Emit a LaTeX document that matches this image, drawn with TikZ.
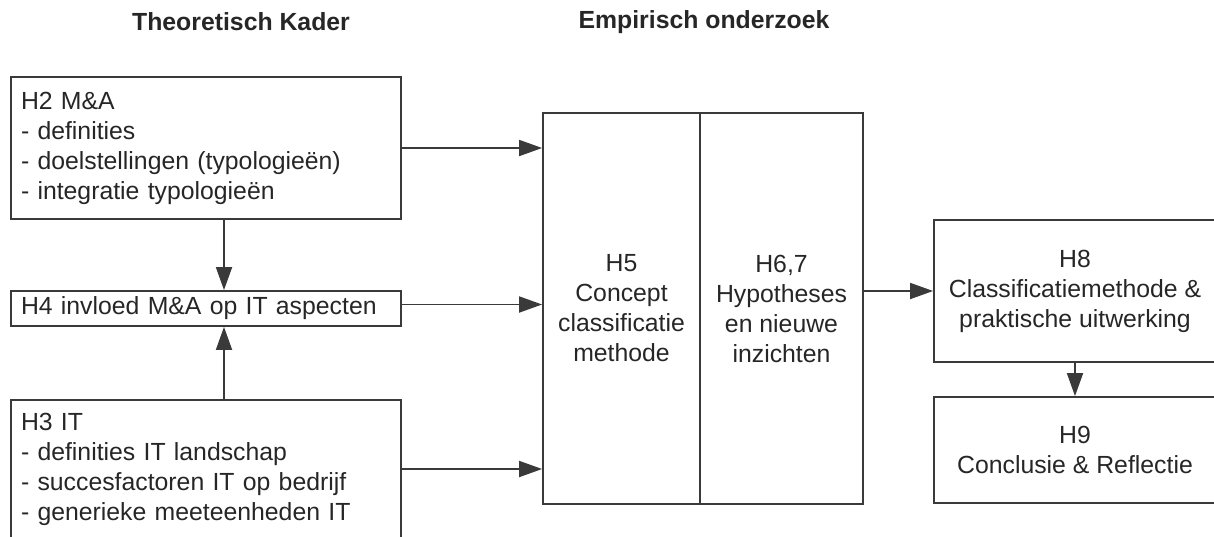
\documentclass[tikz,border=0pt]{standalone}
\usepackage{fontspec}
\setmainfont{Liberation Sans}
\usetikzlibrary{arrows.meta}
\definecolor{linegray}{HTML}{3A3A3A}
\definecolor{inkgray}{HTML}{262626}
\begin{document}
\begin{tikzpicture}[x=1pt,y=-1pt,
  every node/.style={font=\fontsize{24.8}{30}\selectfont, text=inkgray},
  box/.style={draw=linegray, line width=1.8pt, rectangle, inner xsep=10pt, inner ysep=0pt},
  leftbox/.style={box, align=left, text width=370pt, minimum width=390pt},
  centerbox/.style={box, align=center},
  heading/.style={font=\fontsize{24.8}{30}\selectfont\bfseries},
  conn/.style={draw=linegray, line width=1.8pt, -{Triangle[length=23pt,width=16pt]}}]

\clip (0,0) rectangle (1214,536);

% column headings
\node[heading] (t1) at (241,22) {Theoretisch Kader};
\node[heading] (t2) at (704,22) {Empirisch onderzoek};

% theoretical framework
\node[leftbox, minimum height=142pt] (h2) at (206,148)
  {H2 M\&A\\- definities\\- doelstellingen (typologieën)\\- integratie typologieën};
\node[leftbox, minimum height=35pt] (h4) at (206,308.5)
  {H4 invloed M\&A op IT aspecten};
\node[leftbox, minimum height=138pt] (h3) at (206,469)
  {H3 IT\\- definities IT landschap\\- succesfactoren IT op bedrijf\\- generieke meeteenheden IT};

% empirical research, split box
\node[centerbox, minimum width=157pt, minimum height=391pt] (h5) at (621.5,308.5)
  {H5\\Concept\\classificatie\\methode};
\node[centerbox, minimum width=163pt, minimum height=391pt] (h67) at (781.5,308.5)
  {H6,7\\Hypotheses\\en nieuwe\\inzichten};

% results
\node[centerbox, minimum width=282pt, minimum height=142pt] (h8) at (1075,291)
  {H8\\Classificatiemethode \&\\praktische uitwerking};
\node[centerbox, minimum width=282pt, minimum height=106pt] (h9) at (1075,450)
  {H9\\Conclusie \& Reflectie};

% connectors
\draw[conn] (h2.east) -- (h2.east -| h5.west);
\draw[conn] ([yshift=4pt]h4.east) -- ([yshift=4pt]h4.east -| h5.west);
\draw[conn] (h3.east) -- (h3.east -| h5.west);
\draw[conn] ([xshift=18pt]h2.south) -- ([xshift=18pt]h4.north);
\draw[conn] ([xshift=18pt]h3.north) -- ([xshift=18pt]h4.south);
\draw[conn] (h8.west -| h67.east) -- (h8.west);
\draw[conn] (h8.south) -- (h9.north);
\end{tikzpicture}
\end{document}
